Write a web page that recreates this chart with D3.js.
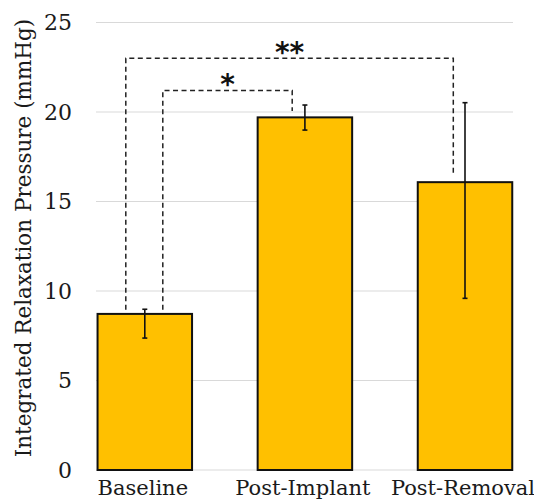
<!DOCTYPE html>
<html><head><meta charset="utf-8">
<script src="https://cdn.jsdelivr.net/npm/d3@7"></script>
<style>body{margin:0;background:#fff}svg{display:block}</style>
</head><body>
<svg id="c" width="534" height="501"></svg>
<script>
const categories = ["Baseline", "Post-Implant", "Post-Removal"];
const values = [8.72, 19.7, 16.08];
const errLow = [7.37, 18.99, 9.59];
const errHigh = [8.98, 20.39, 20.52];
const yTicks = [0, 5, 10, 15, 20, 25];
const yTitle = "Integrated Relaxation Pressure (mmHg)";
const sig = [
  {from: 0, to: 2, label: "**", top: 23.0, fromEnd: 8.95, toEnd: 16.5, fromOff: -19, toOff: -11.7},
  {from: 0, to: 1, label: "*", top: 21.2, fromEnd: 8.95, toEnd: 20.05, fromOff: 18, toOff: -12.7}
];

const svg = d3.select("#c");
const font = "'DejaVu Serif', serif";
const y = d3.scaleLinear().domain([0, 25]).range([470, 22.5]);
const x = d3.scalePoint().domain(categories).range([144.8, 465]);
const barW = 94.5;

// gridlines
svg.append("g").selectAll("line").data(yTicks).join("line")
  .attr("x1", 96).attr("x2", 513)
  .attr("y1", d => y(d)).attr("y2", d => y(d))
  .attr("stroke", "#d9d9d9").attr("stroke-width", 1);

// y tick labels
svg.append("g").selectAll("text").data(yTicks).join("text")
  .attr("x", 72).attr("y", d => y(d)).attr("dy", "0.36em")
  .attr("text-anchor", "end").attr("font-family", font).attr("font-size", 22)
  .attr("fill", "#1a1a1a").text(d => d);

// y title
svg.append("text").attr("transform", "translate(31,238) rotate(-90)")
  .attr("text-anchor", "middle").attr("font-family", font).attr("font-size", 21.5)
  .attr("fill", "#1a1a1a").text(yTitle);

// bars
svg.append("g").selectAll("rect").data(values).join("rect")
  .attr("x", (d, i) => x(categories[i]) - barW / 2)
  .attr("y", d => y(d)).attr("width", barW).attr("height", d => y(0) - y(d))
  .attr("fill", "#FFC000").attr("stroke", "#111").attr("stroke-width", 2);

// error bars
const eb = svg.append("g").attr("stroke", "#111").attr("stroke-width", 1.6);
categories.forEach((c, i) => {
  const cx = x(c);
  eb.append("line").attr("x1", cx).attr("x2", cx).attr("y1", y(errLow[i])).attr("y2", y(errHigh[i]));
  eb.append("line").attr("x1", cx - 2.5).attr("x2", cx + 2.5).attr("y1", y(errLow[i])).attr("y2", y(errLow[i]));
  eb.append("line").attr("x1", cx - 2.5).attr("x2", cx + 2.5).attr("y1", y(errHigh[i])).attr("y2", y(errHigh[i]));
});

// significance brackets
sig.forEach(s => {
  const x1 = x(categories[s.from]) + s.fromOff;
  const x2 = x(categories[s.to]) + s.toOff;
  const path = d3.path();
  path.moveTo(x1, y(s.fromEnd));
  path.lineTo(x1, y(s.top));
  path.lineTo(x2, y(s.top));
  path.lineTo(x2, y(s.toEnd));
  svg.append("path").attr("d", path.toString()).attr("fill", "none")
    .attr("stroke", "#222").attr("stroke-width", 1.5).attr("stroke-dasharray", "5,3.5");
  svg.append("text").attr("x", (x1 + x2) / 2).attr("y", y(s.top) + 3.5)
    .attr("text-anchor", "middle").attr("font-family", "'DejaVu Sans', sans-serif")
    .attr("font-size", 28).attr("font-weight", "bold").attr("fill", "#111").text(s.label);
});

// category labels
svg.append("g").selectAll("text").data(categories).join("text")
  .attr("x", d => x(d) - 2).attr("y", 495)
  .attr("text-anchor", "middle").attr("font-family", font).attr("font-size", 21)
  .attr("fill", "#1a1a1a").text(d => d);
</script>
</body></html>
